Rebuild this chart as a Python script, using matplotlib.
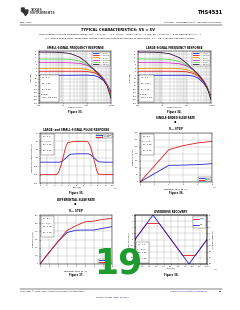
import matplotlib
matplotlib.use("Agg")
import matplotlib.pyplot as plt
from matplotlib.lines import Line2D
from matplotlib.patches import Polygon

# ---------------- data ----------------
freq_hz = [1e5, 2e5, 5e5, 1e6, 2e6, 5e6, 1e7, 2e7, 3e7, 5e7, 7e7, 1e8]
gain_labels = ["G = 1 V/V", "G = 1.5 V/V", "G = 2 V/V", "G = 3.5 V/V", "G = 5 V/V", "G = 10 V/V"]
gain_colors = ["#1f1fd0", "#e01818", "#f08c00", "#d020c0", "#5ad25a", "#3a1040"]

ss_g1 = [0, 0, 0, 0, 0, 0.1, 0.1, -0.3, -1.5, -4.8, -8.5, -14]
ss_g15 = [3.5, 3.5, 3.5, 3.5, 3.5, 3.5, 3.3, 2.2, 0.3, -4, -8.5, -15]
ss_g2 = [6, 6, 6, 6, 6, 5.8, 5.2, 3.2, 1.0, -3.5, -8.5, -16]
ss_g35 = [10.9, 10.9, 10.9, 10.9, 10.8, 10.3, 8.7, 5.0, 2.0, -3.0, -8, -17]
ss_g5 = [14, 14, 14, 14, 13.8, 12.3, 9.4, 4.9, 1.4, -4.5, -9, -18]
ss_g10 = [20, 20, 19.9, 19.6, 18.8, 15.6, 10.8, 4.7, 1.2, -4.5, -9.5, -20]
ss_curves = [ss_g1, ss_g15, ss_g2, ss_g35, ss_g5, ss_g10]

ls_g1 = [0, 0, 0, 0, 0, 0, 0, -0.8, -2.5, -7, -11.5, -18]
ls_g15 = [3.5, 3.5, 3.5, 3.5, 3.5, 3.4, 3.0, 1.5, -0.8, -6, -11, -18.5]
ls_g2 = [6, 6, 6, 6, 6, 5.7, 4.9, 2.5, -0.2, -5.5, -11, -19]
ls_g35 = [10.9, 10.9, 10.9, 10.9, 10.7, 10.0, 8.2, 4.2, 1.0, -4.5, -10, -19.5]
ls_g5 = [14, 14, 14, 14, 13.7, 12.0, 9.0, 4.3, 0.6, -5.5, -10.5, -20]
ls_g10 = [20, 20, 19.9, 19.5, 18.6, 15.3, 10.4, 4.2, 0.5, -5.5, -11, -21]
ls_curves = [ls_g1, ls_g15, ls_g2, ls_g35, ls_g5, ls_g10]

pulse_t_large = [0, 22, 24, 26, 28, 30, 32, 34, 36, 38, 45, 55, 64, 66, 68, 70, 72, 74, 76, 78, 80, 100]
pulse_v_large = [-1, -1, -0.95, -0.8, -0.55, -0.25, 0.1, 0.45, 0.75, 0.92, 0.98, 1.0, 1.0, 0.95,
                 0.8, 0.55, 0.25, -0.1, -0.45, -0.8, -0.97, -1.0]
pulse_t_small = [0, 27, 30, 33, 36, 39, 42, 50, 66, 69, 72, 75, 78, 81, 90, 100]
pulse_v_small = [-0.25, -0.25, -0.2, -0.1, 0.02, 0.15, 0.23, 0.25, 0.25, 0.2, 0.1, -0.02,
                 -0.15, -0.23, -0.25, -0.25]

se_step = [0, 1, 2, 3, 4, 5]
se_rising = [0, 60, 119, 121, 124, 131]
se_falling = [0, 115, 231, 260, 279, 290]

diff_step = [0, 1, 2, 3, 4, 5, 6, 7, 8]
diff_rising = [0, 140, 275, 385, 414, 416, 416, 437, 457]
diff_falling = [0, 140, 275, 410, 469, 516, 526, 547, 559]

od_t_in = [0, 250, 500, 750, 1000]
od_v_in = [0, 4, 0, -4, 0]
od_t_out = [0, 162, 338, 662, 838, 1000]
od_v_out = [0, 5.2, 5.2, -5.2, -5.2, 0]

# ---------------- page ----------------
W, H = 240, 310
fig = plt.figure(figsize=(2.4, 3.1), dpi=100)
fig.patch.set_facecolor("white")

TS = 1.3   # tick label size
LS = 1.4   # axis label size


def px_axes(x0, y0, x1, y1):
    return fig.add_axes([x0 / W, 1 - y1 / H, (x1 - x0) / W, (y1 - y0) / H])


def ftext(x, y, s, **kw):
    fig.text(x / W, 1 - y / H, s, **kw)


def style(ax):
    for sp in ax.spines.values():
        sp.set_linewidth(0.35)
    ax.tick_params(labelsize=TS, length=0.6, width=0.3, pad=0.6, which="both")
    ax.tick_params(which="minor", length=0)
    ax.grid(True, which="both", color="#a8a8a8", lw=0.25)
    ax.set_axisbelow(True)


def note(ax, s, x, y, va="bottom"):
    ax.text(x, y, s, transform=ax.transAxes, fontsize=1.25, va=va, ha="left", linespacing=1.3,
            bbox=dict(facecolor="white", edgecolor="black", lw=0.2, pad=0.7), zorder=5)


def leg(ax, loc):
    lg = ax.legend(loc=loc, fontsize=1.25, handlelength=3, borderpad=0.4, labelspacing=0.25,
                   handletextpad=0.5, fancybox=False, framealpha=1)
    lg.get_frame().set_linewidth(0.2)
    lg.get_frame().set_edgecolor("black")
    lg.set_zorder(6)


# header
logo = Polygon([[21.5 / W, 1 - 8 / H], [24 / W, 1 - 8 / H], [24.5 / W, 1 - 10 / H], [28 / W, 1 - 10 / H],
                [27.5 / W, 1 - 13 / H], [25.5 / W, 1 - 15.5 / H], [24 / W, 1 - 13 / H], [21.5 / W, 1 - 11 / H]],
               closed=True, transform=fig.transFigure, color="#333333")
fig.add_artist(logo)
ftext(30, 9.8, "TEXAS", fontsize=2.3, weight="bold", color="#444444", va="center")
ftext(30, 13.5, "INSTRUMENTS", fontsize=2.3, weight="bold", color="#444444", va="center")
ftext(223, 12, "THS4531", fontsize=3.6, weight="bold", ha="right", va="center")
ftext(20, 22.8, "www.ti.com", fontsize=1.5, va="center")
ftext(222, 22.8, "SLOS358 \u2013 SEPTEMBER 2011 \u2013 REVISED MARCH 2012", fontsize=1.5, ha="right", va="center")
fig.add_artist(Line2D([20 / W, 222 / W], [1 - 24.6 / H] * 2, lw=0.35, color="black"))
ftext(118, 29.8, "TYPICAL CHARACTERISTICS: VS = 5V", fontsize=2.6, weight="bold", ha="center", va="center")
ftext(120, 34.6, "Test conditions (unless otherwise noted): VS+ = 5 V, VS\u2013 = 0 V, VOCM = open, "
                 "VOUT = 2 Vpp, RF = 2 k\u03a9, RL = 2 k\u03a9 Differential, G = 1",
      fontsize=1.7, ha="center", va="center")
ftext(120, 37.9, "V/V, Single-Ended Input, Differential Output, Input and Output Referenced to mid-supply, "
                 "TA = 25\u00b0C (unless otherwise noted)",
      fontsize=1.7, ha="center", va="center")

# --- Figure 33: small-signal frequency response
ax1 = px_axes(39, 51, 111, 103)
for vals, lab, col in zip(ss_curves, gain_labels, gain_colors):
    ax1.semilogx(freq_hz, vals, color=col, lw=0.6, label=lab)
# --- Figure 34: large-signal frequency response
ax2 = px_axes(138, 51, 211, 103)
for vals, lab, col in zip(ls_curves, gain_labels, gain_colors):
    ax2.semilogx(freq_hz, vals, color=col, lw=0.6, label=lab)

for ax, title, cond in [(ax1, "SMALL-SIGNAL FREQUENCY RESPONSE", "100 mV$_{PP}$"),
                        (ax2, "LARGE-SIGNAL FREQUENCY RESPONSE", "2 V$_{PP}$")]:
    style(ax)
    ax.set_xlim(1e5, 1e8)
    ax.set_ylim(-24, 21)
    ax.set_yticks(range(-24, 22, 3))
    ax.set_xticks([1e5, 1e6, 1e7, 1e8])
    ax.set_xticklabels(["100k", "1M", "10M", "100M"])
    ax.set_xlabel("Frequency (Hz)", fontsize=LS, labelpad=0.8)
    ax.set_ylabel("Gain (dB)", fontsize=LS, labelpad=0.8)
    ax.set_title(title, fontsize=1.9, weight="bold", pad=1.5)
    leg(ax, "upper right")
    note(ax, "V$_S$ = 5 V\nR$_F$ = 2 k$\\Omega$\nR$_L$ = 2 k$\\Omega$\nG varies\nV$_{OUT}$ = " + cond, 0.03, 0.04)
ax1.text(1.01, -0.06, "C001", transform=ax1.transAxes, fontsize=1.1, color="#555555")
ax2.text(1.01, -0.06, "C002", transform=ax2.transAxes, fontsize=1.1, color="#555555")

# --- Figure 35: pulse response
ax3 = px_axes(40, 133, 113, 183)
style(ax3)
ax3.plot(pulse_t_small, pulse_v_small, color="#1f1fd0", lw=0.6, label="0.5 V Step")
ax3.plot(pulse_t_large, pulse_v_large, color="#e01818", lw=0.6, label="2 V Step")
ax3.set_xlim(0, 100)
ax3.set_ylim(-1.5, 1.5)
ax3.set_xticks(range(0, 101, 10))
ax3.set_yticks([-1.5, -1, -0.5, 0, 0.5, 1, 1.5])
ax3.set_xlabel("Time (ns)", fontsize=LS, labelpad=0.8)
ax3.set_ylabel("Differential Output Voltage (V)", fontsize=LS, labelpad=0.8)
ax3.set_title("LARGE- and SMALL-SIGNAL PULSE RESPONSE", fontsize=1.9, weight="bold", pad=1.5)
leg(ax3, "upper right")
note(ax3, "V$_S$ = 5 V\nG = 1 V/V\nR$_F$ = 2 k$\\Omega$\nR$_L$ = 2 k$\\Omega$", 0.03, 0.96, va="top")
ax3.text(1.01, -0.12, "C003", transform=ax3.transAxes, fontsize=1.1, color="#555555")

# --- Figure 36: single-ended slew rate
ax4 = px_axes(140, 133, 212, 182)
style(ax4)
ax4.plot(se_step, se_rising, color="#1f1fd0", lw=0.6, label="Rising")
ax4.plot(se_step, se_falling, color="#e01818", lw=0.6, label="Falling")
ax4.set_xlim(0, 5)
ax4.set_ylim(0, 350)
ax4.set_yticks(range(0, 351, 50))
ax4.set_xlabel("Differential V$_{OUT}$ Step (V)", fontsize=LS, labelpad=0.8)
ax4.set_ylabel("Slew Rate (V/\u00b5s)", fontsize=LS, labelpad=0.8)
ax4.set_title("SINGLE-ENDED SLEW RATE\nvs\nV$_{OUT}$ STEP", fontsize=1.9, weight="bold", pad=1.5, linespacing=1.2)
leg(ax4, "lower right")
note(ax4, "V$_S$ = 5 V\nG = 1 V/V\nR$_F$ = 2 k$\\Omega$\nR$_L$ = 2 k$\\Omega$", 0.03, 0.96, va="top")
ax4.text(1.01, -0.12, "C004", transform=ax4.transAxes, fontsize=1.1, color="#555555")

# --- Figure 37: differential slew rate
ax5 = px_axes(40, 215, 112, 264)
style(ax5)
ax5.plot(diff_step, diff_rising, color="#1f1fd0", lw=0.6, label="Rising")
ax5.plot(diff_step, diff_falling, color="#e01818", lw=0.6, label="Falling")
ax5.set_xlim(0, 8)
ax5.set_ylim(0, 600)
ax5.set_yticks(range(0, 601, 100))
ax5.set_xlabel("Differential V$_{OUT}$ Step (V)", fontsize=LS, labelpad=0.8)
ax5.set_ylabel("Slew Rate (V/\u00b5s)", fontsize=LS, labelpad=0.8)
ax5.set_title("DIFFERENTIAL SLEW RATE\nvs\nV$_{OUT}$ STEP", fontsize=1.9, weight="bold", pad=1.5, linespacing=1.2)
leg(ax5, "lower right")
note(ax5, "V$_S$ = 5 V\nG = 1 V/V\nR$_F$ = 2 k$\\Omega$\nR$_L$ = 2 k$\\Omega$", 0.03, 0.96, va="top")
ax5.text(1.01, -0.12, "C005", transform=ax5.transAxes, fontsize=1.1, color="#555555")

# --- Figure 38: overdrive recovery
ax6 = px_axes(135, 215, 207, 264)
style(ax6)
ax6.plot(od_t_out, [v / 2 for v in od_v_out], color="#e01818", lw=0.6, label="V$_{OUT}$")
ax6.plot(od_t_in, od_v_in, color="#1f1fd0", lw=0.6, label="V$_{IN}$")
ax6.set_xlim(0, 1000)
ax6.set_ylim(-4, 4)
ax6.set_xticks(range(0, 1001, 100))
ax6.set_yticks(range(-4, 5, 1))
ax6.set_xlabel("Time (ns)", fontsize=LS, labelpad=0.8)
ax6.set_ylabel("Input Voltage (V)", fontsize=LS, labelpad=0.8)
ax6.set_title("OVERDRIVE RECOVERY", fontsize=1.9, weight="bold", pad=1.5)
ax6r = ax6.twinx()
ax6r.set_ylim(-8, 8)
ax6r.set_yticks(range(-8, 9, 2))
ax6r.tick_params(labelsize=TS, length=0.6, width=0.3, pad=0.6)
ax6r.set_ylabel("Output Voltage (V)", fontsize=LS, labelpad=0.8)
for sp in ax6r.spines.values():
    sp.set_linewidth(0.35)
leg(ax6, "upper right")
note(ax6, "V$_S$ = 5 V\nG = 2 V/V\nR$_F$ = 2 k$\\Omega$\nR$_L$ = 2 k$\\Omega$", 0.03, 0.04)
ax6.text(1.1, -0.12, "C006", transform=ax6.transAxes, fontsize=1.1, color="#555555")

# figure captions
for x, y, s in [(75, 112, "Figure 33."), (174, 112, "Figure 34."), (76, 193, "Figure 35."),
                (176, 193, "Figure 36."), (76, 275, "Figure 37."), (171, 275, "Figure 38.")]:
    ftext(x, y, s, fontsize=1.8, weight="bold", ha="center", va="center")

# footer
fig.add_artist(Line2D([20 / W, 222 / W], [1 - 289 / H] * 2, lw=0.35, color="black"))
ftext(20, 291.5, "Copyright \u00a9 2011\u20132012, Texas Instruments Incorporated", fontsize=1.6, va="center")
ftext(207, 291.5, "Submit Documentation Feedback", fontsize=1.6, color="#2020b0", ha="right", va="center")
ftext(222, 291.5, "19", fontsize=1.6, weight="bold", ha="right", va="center")
ftext(120, 297.5, "Product Folder Links: ", fontsize=1.6, ha="right", va="center")
ftext(120, 297.5, "THS4531", fontsize=1.6, color="#2020b0", ha="left", va="center")

# big page number overlay
ftext(118, 263, "19", fontsize=25, weight="bold", color="#1f9a2f", ha="center", va="center", zorder=20)

fig.savefig("out.png", dpi=100)
